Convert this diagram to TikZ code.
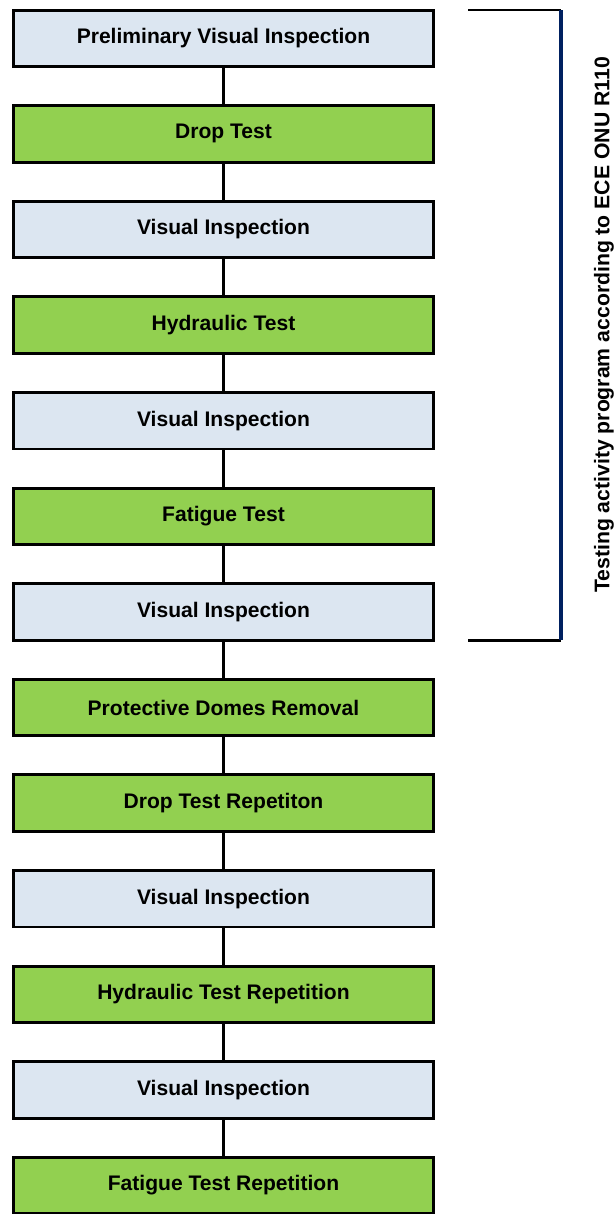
\documentclass[tikz,border=0pt]{standalone}
\usepackage{fontspec}
\setmainfont{Liberation Sans}
\usepackage{xcolor}
\usepackage{tikz}
\usetikzlibrary{positioning,calc}
\definecolor{insp}{HTML}{DCE6F1}
\definecolor{test}{HTML}{92D050}
\definecolor{navy}{HTML}{002060}
\tikzset{
  box/.style={draw=black, line width=2.2pt, minimum width=315pt, minimum height=42.4pt,
    outer sep=0pt, inner sep=0pt, font=\fontsize{15.8}{18}\selectfont\bfseries},
  inspbox/.style={box, fill=insp},
  testbox/.style={box, fill=test},
  link/.style={draw=black, line width=1.6pt},
  brace/.style={draw=black, line width=2pt},
  bracev/.style={draw=navy, line width=2.4pt},
  lab/.style={font=\fontsize{15.9}{18}\selectfont\bfseries, rotate=90},
}

\begin{document}
\begin{tikzpicture}[x=0.75pt, y=-0.75pt, node distance=29.3pt]
  \useasboundingbox (0,0) rectangle (616,1214);
  \node[inspbox] (b1) at (223.5,38.3) {Preliminary Visual Inspection};
  \node[testbox, below=of b1] (b2) {Drop Test};
  \node[inspbox, below=of b2] (b3) {Visual Inspection};
  \node[testbox, below=of b3] (b4) {Hydraulic Test};
  \node[inspbox, below=of b4] (b5) {Visual Inspection};
  \node[testbox, below=of b5] (b6) {Fatigue Test};
  \node[inspbox, below=of b6] (b7) {Visual Inspection};
  \node[testbox, below=of b7] (b8) {Protective Domes Removal};
  \node[testbox, below=of b8] (b9) {Drop Test Repetiton};
  \node[inspbox, below=of b9] (b10) {Visual Inspection};
  \node[testbox, below=of b10] (b11) {Hydraulic Test Repetition};
  \node[inspbox, below=of b11] (b12) {Visual Inspection};
  \node[testbox, below=of b12] (b13) {Fatigue Test Repetition};
  \foreach \a/\b in {b1/b2,b2/b3,b3/b4,b4/b5,b5/b6,b6/b7,b7/b8,b8/b9,b9/b10,b10/b11,b11/b12,b12/b13}
    \draw[link] (\a) -- (\b);
  % bracket for the R110 programme
  \coordinate (tA) at ($(b1.north)+(183.5pt,0)$);
  \coordinate (tB) at ($(b1.north)+(253.1pt,0)$);
  \coordinate (bA) at ($(b7.south)+(183.5pt,0)$);
  \coordinate (bB) at ($(b7.south)+(253.1pt,0)$);
  \draw[brace] (tA) -- (tB);
  \draw[brace] (bA) -- (bB);
  \draw[bracev] (tB) -- (bB);
  \node[lab] (prog) at (604,325) {Testing activity program according to ECE ONU R110};
\end{tikzpicture}
\end{document}
